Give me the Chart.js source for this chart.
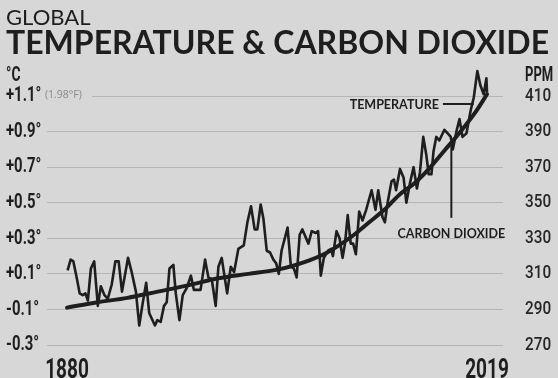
<!DOCTYPE html>
<html><head><meta charset="utf-8">
<script src="https://cdn.jsdelivr.net/npm/chart.js@4/dist/chart.umd.min.js"></script>
<style>
html,body{margin:0;padding:0;background:#d7d7d7;}
#wrap{width:558px;height:378px;position:relative;}
</style></head><body>
<div id="wrap"><canvas id="c" width="558" height="378"></canvas></div>
<script>
// ---- data ----
const tempYears = [1880.2,1881.2,1882.1,1883.2,1884.2,1885.2,1886.1,1886.9,1887.9,1889.0,1890.2,1891.2,1892.4,1893.5,1894.8,1896.0,1897.1,1898.2,1900.2,1901.4,1902.8,1903.9,1905.0,1906.2,1907.2,1909.1,1909.9,1911.0,1912.1,1913.0,1913.9,1915.2,1916.0,1917.2,1918.3,1919.6,1921.0,1922.0,1924.2,1925.7,1926.8,1927.9,1929.2,1930.1,1931.2,1933.0,1934.2,1935.3,1936.7,1938.5,1939.7,1940.9,1942.1,1943.0,1944.1,1945.0,1946.1,1947.2,1948.3,1949.2,1950.1,1951.0,1953.0,1954.1,1955.1,1956.0,1957.0,1957.9,1959.9,1961.0,1962.3,1963.1,1964.0,1965.0,1966.4,1967.4,1968.0,1969.2,1970.2,1971.2,1972.0,1972.9,1973.9,1974.7,1975.6,1976.7,1977.8,1979.0,1980.8,1982.1,1983.0,1984.4,1985.2,1986.1,1987.4,1988.2,1988.9,1990.2,1991.4,1992.3,1993.5,1994.7,1995.8,1996.8,1997.9,1998.9,1999.7,2000.6,2001.3,2002.2,2003.2,2004.9,2006.0,2007.0,2007.7,2009.0,2009.9,2010.9,2012.2,2013.6,2014.6,2015.8,2016.8,2017.9,2018.8,2019.0];
const tempValues = [0.12,0.18,0.17,0.08,-0.01,-0.02,-0.01,-0.05,0.13,0.17,-0.08,0.03,-0.02,-0.04,0.04,0.17,0.17,0.00,0.19,0.11,0.00,-0.19,-0.07,0.05,-0.12,-0.19,-0.16,-0.17,-0.08,-0.06,0.13,0.15,-0.01,-0.16,-0.02,0.02,0.09,0.01,0.01,0.18,0.08,0.07,-0.08,0.14,0.19,-0.01,0.14,0.11,0.24,0.26,0.39,0.48,0.35,0.35,0.49,0.41,0.23,0.22,0.18,0.16,0.10,0.23,0.36,0.14,0.13,0.08,0.32,0.35,0.27,0.34,0.33,0.34,0.09,0.19,0.23,0.24,0.20,0.34,0.30,0.19,0.27,0.43,0.27,0.27,0.21,0.45,0.40,0.46,0.57,0.46,0.57,0.42,0.39,0.50,0.62,0.63,0.57,0.69,0.64,0.50,0.61,0.70,0.58,0.67,0.87,0.77,0.66,0.66,0.79,0.87,0.85,0.91,0.89,0.87,0.80,0.91,0.97,0.87,0.89,1.02,1.09,1.24,1.16,1.11,1.20,1.12];
const co2Years = [1880,1890,1900,1910,1920,1930,1940,1950,1960,1965,1970,1975,1980,1985,1990,1995,2000,2005,2010,2015,2019];
const co2Values = [291,294,296.5,300,303.5,307.5,310,312.5,317.5,321,326,332,339,346,354.5,361,369.5,379.5,389.5,400.5,411];
const tempTicks = [-0.3,-0.1,0.1,0.3,0.5,0.7,0.9,1.1];
const ppmTicks = [270,290,310,330,350,370,390,410];
const yearTicks = [1880,2019];

const INK = '#1e1e1e';
const BG = '#d7d7d7';
const COND = "Roboto,'Liberation Sans',sans-serif";
const SANS = "Lato,'Open Sans',sans-serif";

// linear scale whose tick labels are drawn horizontally condensed
class NarrowLinearScale extends Chart.LinearScale {
  drawLabels(chartArea) {
    const t = this.options.ticks;
    if (!t.display) return;
    const sx = t.squeeze || 1;
    const ctx = this.ctx;
    for (const item of this.getLabelItems(chartArea)) {
      const o = item.options;
      ctx.save();
      ctx.translate(o.translation[0], o.translation[1]);
      if (o.rotation) ctx.rotate(o.rotation);
      ctx.scale(sx, 1);
      ctx.font = item.font.string;
      ctx.fillStyle = o.color;
      ctx.textAlign = o.textAlign;
      ctx.textBaseline = o.textBaseline;
      ctx.fillText(item.label, 0, item.textOffset);
      ctx.restore();
    }
  }
}
NarrowLinearScale.id = 'narrowLinear';
NarrowLinearScale.defaults = Chart.LinearScale.defaults;
Chart.register(NarrowLinearScale);

function squeezedText(ctx, text, x, y, font, sx, align) {
  ctx.save();
  ctx.translate(x, y); ctx.scale(sx, 1);
  ctx.font = font; ctx.textAlign = align || 'left'; ctx.textBaseline = 'middle';
  ctx.fillText(text, 0, 0);
  ctx.restore();
}

const notes = {
  id: 'notes',
  beforeDatasetsDraw(chart) {
    const {ctx} = chart; const yt = chart.scales.yT; const ca = chart.chartArea;
    const y = yt.getPixelForValue(1.1);
    ctx.save();
    ctx.fillStyle = BG;
    ctx.fillRect(ca.left - 1, y - 2, 46, 4);
    ctx.fillStyle = '#8a8a8a';
    ctx.font = "10.5px 'Open Sans',sans-serif";
    ctx.textBaseline = 'middle'; ctx.textAlign = 'left';
    ctx.fillText('(1.98°F)', ca.left - 2, y - 1);
    ctx.fillStyle = INK;
    squeezedText(ctx, '°C', 6, 76, 'bold 21px ' + COND, 0.66);
    squeezedText(ctx, 'PPM', 525, 76, 'bold 21px ' + COND, 0.62);
    ctx.restore();
  },
  afterDatasetsDraw(chart) {
    const {ctx} = chart; const xs = chart.scales.x, yt = chart.scales.yT, yc = chart.scales.yC;
    ctx.save();
    ctx.strokeStyle = INK; ctx.fillStyle = INK; ctx.lineWidth = 2;
    const ty = yt.getPixelForValue(1.055);
    const tx1 = xs.getPixelForValue(2004.4), tx2 = xs.getPixelForValue(2014.6);
    ctx.beginPath(); ctx.moveTo(tx1, ty); ctx.lineTo(tx2, ty); ctx.stroke();
    ctx.font = 'bold 12.5px ' + SANS;
    ctx.textAlign = 'right'; ctx.textBaseline = 'middle';
    ctx.fillText('TEMPERATURE', tx1 - 4, ty + 1);
    const cx = xs.getPixelForValue(2007.2);
    ctx.beginPath(); ctx.moveTo(cx, yc.getPixelForValue(384)); ctx.lineTo(cx, yc.getPixelForValue(341.5)); ctx.stroke();
    ctx.textAlign = 'center';
    ctx.fillText('CARBON DIOXIDE', cx, yc.getPixelForValue(332.4));
    ctx.restore();
  }
};

new Chart(document.getElementById('c'), {
  type: 'line',
  data: {
    datasets: [
      {label: 'Temperature', data: tempYears.map((x, i) => ({x, y: tempValues[i]})), yAxisID: 'yT',
       borderColor: INK, borderWidth: 2.6, pointRadius: 0, tension: 0, clip: false, borderJoinStyle: 'round'},
      {label: 'Carbon dioxide', data: co2Years.map((x, i) => ({x, y: co2Values[i]})), yAxisID: 'yC',
       borderColor: INK, borderWidth: 4, pointRadius: 0, cubicInterpolationMode: 'monotone', clip: false, borderCapStyle: 'round'}
    ]
  },
  options: {
    responsive: false, animation: false, devicePixelRatio: 1,
    layout: {padding: {top: 10, left: 6, right: 0, bottom: 0}},
    plugins: {
      legend: {display: false}, tooltip: {enabled: false},
      title: {display: true, text: 'GLOBAL', align: 'start', color: INK,
        font: {family: SANS, size: 22, weight: 'normal', lineHeight: 0.7273}, padding: {top: 0, bottom: 0}},
      subtitle: {display: true, text: 'TEMPERATURE & CARBON DIOXIDE', align: 'start', color: INK,
        font: {family: SANS, size: 32, weight: 'bold', lineHeight: 1}, padding: {top: 2, bottom: 36}}
    },
    scales: {
      x: {type: 'narrowLinear', min: 1873.38, max: 2024.29,
        afterBuildTicks: s => { s.ticks = yearTicks.map(v => ({value: v})); },
        afterFit: s => { s.height = 33; },
        grid: {display: false}, border: {display: false},
        ticks: {autoSkip: false, maxRotation: 0, padding: 1, color: INK, squeeze: 0.68,
          font: {family: COND, size: 28, weight: 'bold'}, callback: v => String(v)}},
      yT: {type: 'narrowLinear', position: 'left', min: -0.3, max: 1.1,
        afterBuildTicks: s => { s.ticks = tempTicks.map(v => ({value: v})); },
        afterFit: s => { s.width = 41; },
        grid: {color: '#b6b6b6', lineWidth: 1, drawTicks: false}, border: {display: false},
        ticks: {crossAlign: 'far', color: INK, squeeze: 0.71, font: {family: COND, size: 21, weight: 'bold'},
          callback: v => (v > 0 ? '+' : '') + v.toFixed(1) + '°'}},
      yC: {type: 'narrowLinear', position: 'right', min: 270, max: 410,
        afterBuildTicks: s => { s.ticks = ppmTicks.map(v => ({value: v})); },
        afterFit: s => { s.width = 55; },
        grid: {display: false, drawTicks: false}, border: {display: false},
        ticks: {padding: 22, color: '#262626', squeeze: 0.85, font: {family: COND, size: 18, weight: '500'}, callback: v => String(v)}}
    }
  },
  plugins: [notes]
});
</script>
</body></html>
